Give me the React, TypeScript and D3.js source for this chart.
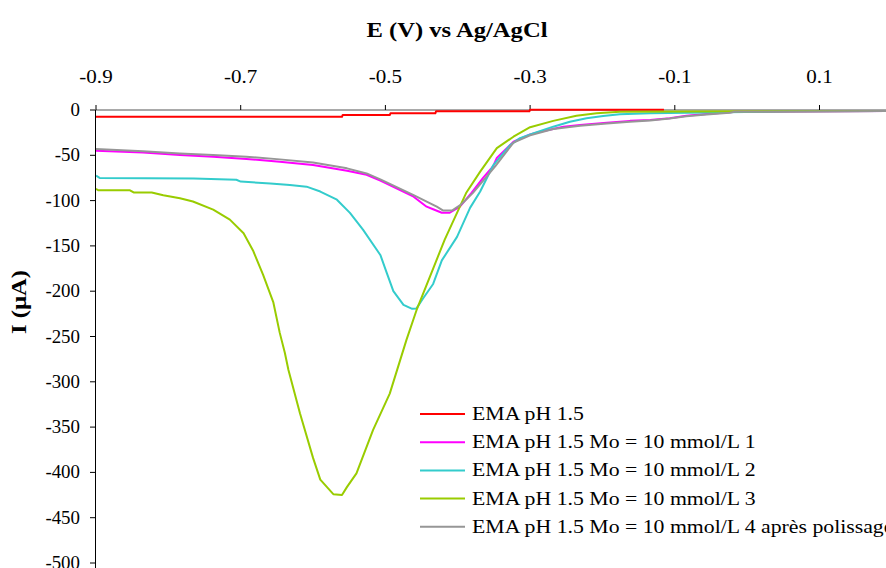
import React from "react";
import * as d3 from "d3";

// ---- Data (E in V vs Ag/AgCl, I in µA) ----
const seriesNames = [
  "EMA pH 1.5",
  "EMA pH 1.5 Mo = 10 mmol/L 1",
  "EMA pH 1.5 Mo = 10 mmol/L 2",
  "EMA pH 1.5 Mo = 10 mmol/L 3",
  "EMA pH 1.5 Mo = 10 mmol/L 4 après polissage",
];
const seriesColors = ["#FF0000", "#FF00FF", "#33CCCC", "#99CC00", "#969696"];

const redE = [-0.9, -0.56, -0.559, -0.494, -0.493, -0.431, -0.43, -0.301, -0.3, -0.115];
const redI = [-7.5, -7.5, -5.5, -5.5, -3.7, -3.7, -1.5, -1.5, 0.3, 0.3];

const magE = [-0.9, -0.835, -0.784, -0.738, -0.692, -0.646, -0.6, -0.553, -0.526, -0.507, -0.461, -0.443, -0.434, -0.422, -0.411, -0.397, -0.381, -0.365, -0.351, -0.346, -0.323, -0.3, -0.286, -0.254, -0.231, -0.194, -0.162, -0.134, -0.107, -0.084, -0.056, -0.024, -0.017, 0.2];
const magI = [-45, -47, -49.7, -51.5, -54, -57, -60.7, -67, -71.5, -78, -95.7, -106.7, -109.6, -113.4, -113.4, -106.7, -91.5, -75, -62, -53, -35, -27, -24, -18.4, -16.5, -14, -12, -11, -9.2, -6.3, -4.4, -2.6, -2, -1];

const cyanE = [-0.9, -0.895, -0.765, -0.706, -0.7, -0.659, -0.632, -0.609, -0.59, -0.567, -0.549, -0.531, -0.507, -0.498, -0.489, -0.475, -0.463, -0.457, -0.448, -0.434, -0.422, -0.401, -0.383, -0.369, -0.351, -0.328, -0.314, -0.296, -0.268, -0.245, -0.222, -0.199, -0.176, -0.134, 0.06, 0.2];
const cyanI = [-72.5, -75, -75.5, -77, -79, -81, -82.8, -84.6, -90, -99, -113.6, -132, -160, -180, -200, -215, -219.5, -219, -208, -192, -166, -140, -108, -90, -61, -39, -31, -26, -18.4, -12.9, -9.2, -6.6, -4.8, -3.7, -1.5, -1];

const greenE = [-0.9, -0.897, -0.853, -0.848, -0.823, -0.807, -0.784, -0.766, -0.738, -0.715, -0.696, -0.683, -0.669, -0.655, -0.646, -0.639, -0.634, -0.618, -0.6, -0.59, -0.572, -0.56, -0.553, -0.54, -0.517, -0.494, -0.471, -0.457, -0.434, -0.418, -0.388, -0.369, -0.346, -0.323, -0.3, -0.268, -0.236, -0.208, -0.176, 0.2];
const greenI = [-87, -88.6, -88.6, -91, -91, -94, -97.5, -101, -110, -121, -136, -155, -182, -212, -246, -268, -287, -335, -384, -408, -424, -425, -416, -401, -353, -313, -254, -221, -175, -143, -91, -68, -42, -29.5, -19, -12, -6.3, -3.7, -1.8, -1];

const grayE = [-0.9, -0.835, -0.784, -0.738, -0.692, -0.646, -0.6, -0.553, -0.526, -0.507, -0.461, -0.429, -0.42, -0.408, -0.395, -0.379, -0.348, -0.323, -0.3, -0.268, -0.231, -0.194, -0.162, -0.134, -0.107, -0.084, -0.056, -0.024, -0.017, 0.2];
const grayI = [-43, -45.5, -48, -49.7, -51.5, -54.5, -58, -64.4, -70, -76.5, -94, -106.7, -111, -111, -104, -91.5, -62, -36, -28, -21, -17.5, -15, -13, -11.5, -9.5, -7, -5, -3, -2, -1];

const xTicks = [-0.9, -0.7, -0.5, -0.3, -0.1, 0.1];
const yTicks = [0, -50, -100, -150, -200, -250, -300, -350, -400, -450, -500];

const W = 886;
const H = 568;
const FONT = "'Liberation Serif', 'Times New Roman', serif";
const SX = 1.17;
const SXL = 1.21;

export default function App() {
  const x = d3.scaleLinear().domain([-0.9, 0.1]).range([96, 819.5]);
  const y = d3.scaleLinear().domain([0, -500]).range([110, 563]);
  const line = d3
    .line<[number, number]>()
    .x((d) => x(d[0]))
    .y((d) => y(d[1]));

  const zip = (a: number[], b: number[]) => a.map((v, i) => [v, b[i]] as [number, number]);
  const series = [
    zip(redE, redI),
    zip(magE, magI),
    zip(cyanE, cyanI),
    zip(greenE, greenI),
    zip(grayE, grayI),
  ];

  const legendX = 420;
  const legendY0 = 414;
  const legendDy = 28.2;

  return (
    <svg
      width={W}
      height={H}
      style={{ position: "absolute", left: 0, top: 0, background: "#fff" }}
      fontFamily={FONT}
    >
      <rect x={0} y={0} width={W} height={H} fill="#fff" />
      <defs>
        <clipPath id="plot">
          <rect x={96} y={100} width={W - 96} height={H - 100} />
        </clipPath>
      </defs>

      {/* Title */}
      <text
        transform={`translate(457,37) scale(1.2,1)`}
        textAnchor="middle"
        fontSize={20.5}
        fontWeight="bold"
      >
        E (V) vs Ag/AgCl
      </text>

      {/* Y label */}
      <text
        transform={`translate(26,302) rotate(-90) scale(1.2,1)`}
        textAnchor="middle"
        fontSize={20.5}
        fontWeight="bold"
      >
        I (µA)
      </text>

      {/* X axis (top, at I = 0) */}
      <line x1={96} x2={W} y1={y(0)} y2={y(0)} stroke="#555" strokeWidth={1.2} />
      {xTicks.map((t) => (
        <g key={"xt" + t}>
          <line x1={x(t)} x2={x(t)} y1={y(0)} y2={y(0) - 5} stroke="#000" strokeWidth={1} />
          <text
            transform={`translate(${x(t)},83) scale(${SX},1)`}
            textAnchor="middle"
            fontSize={18}
          >
            {d3.format(".1f")(t).replace("−", "-")}
          </text>
        </g>
      ))}

      {/* Y axis */}
      <line x1={95.5} x2={95.5} y1={y(0)} y2={H} stroke="#000" strokeWidth={1} />
      {yTicks.map((t) => (
        <g key={"yt" + t}>
          <line x1={90} x2={95.5} y1={y(t)} y2={y(t)} stroke="#000" strokeWidth={1} />
          <text
            transform={`translate(80,${y(t) + 6}) scale(1.05,1)`}
            textAnchor="end"
            fontSize={18}
          >
            {String(t)}
          </text>
        </g>
      ))}

      {/* Curves */}
      <g clipPath="url(#plot)">
        {series.map((s, i) => (
          <path
            key={"s" + i}
            d={line(s) || ""}
            fill="none"
            stroke={seriesColors[i]}
            strokeWidth={2}
            strokeLinejoin="round"
          />
        ))}
      </g>

      {/* Legend */}
      {seriesNames.map((name, i) => {
        const ly = legendY0 + i * legendDy;
        return (
          <g key={"lg" + i}>
            <line x1={legendX} x2={legendX + 45} y1={ly} y2={ly} stroke={seriesColors[i]} strokeWidth={2} />
            <text
              transform={`translate(${legendX + 52},${ly + 6}) scale(${SXL},1)`}
              fontSize={18}
            >
              {name}
            </text>
          </g>
        );
      })}
    </svg>
  );
}
